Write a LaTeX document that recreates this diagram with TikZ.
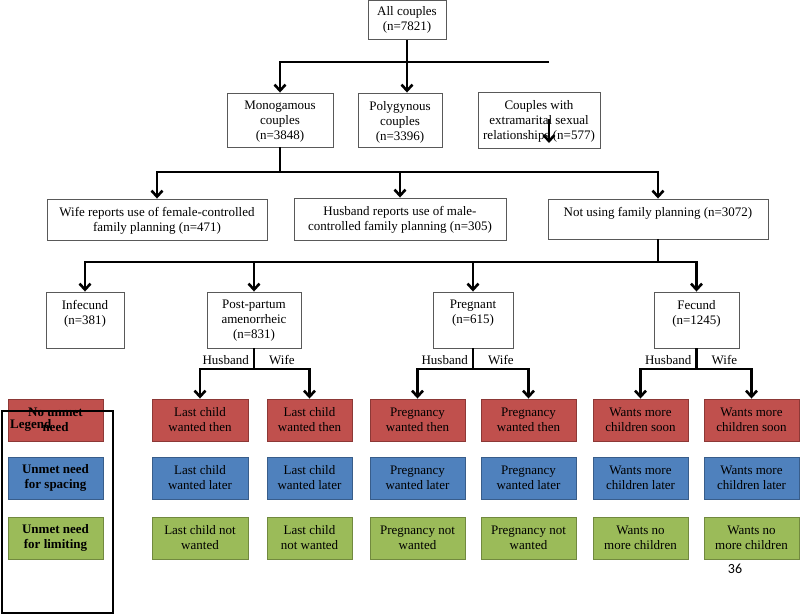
\documentclass[tikz,border=0pt]{standalone}
\usepackage{fontspec}
\setmainfont{Liberation Serif}
\newfontfamily\pagenumfont{Carlito}
\usetikzlibrary{arrows.meta}

\newcommand\boxfont{\fontsize{13}{15}\selectfont}

\definecolor{nored}{HTML}{C0504D}
\definecolor{noredline}{HTML}{8C3836}
\definecolor{spaceblue}{HTML}{4F81BD}
\definecolor{spaceblueline}{HTML}{385D8A}
\definecolor{limitgreen}{HTML}{9BBB59}
\definecolor{limitgreenline}{HTML}{71893F}

\tikzset{
  plainbox/.style={draw=black!65, line width=0.9pt, inner sep=0pt},
  boxtext/.style={anchor=north, align=center, inner xsep=2pt, inner ysep=8.5pt},
  cbox/.style={line width=0.9pt, minimum height=42, minimum width=95, align=center, inner sep=1pt},
  redbox/.style={cbox, fill=nored, draw=noredline},
  bluebox/.style={cbox, fill=spaceblue, draw=spaceblueline},
  greenbox/.style={cbox, fill=limitgreen, draw=limitgreenline},
  flow/.style={line width=2.6pt},
  arr/.style={flow, -{Straight Barb[length=6pt,width=11pt]}},
  arrboth/.style={flow, {Straight Barb[length=6pt,width=11pt]}-{Straight Barb[length=6pt,width=11pt]}},
  sidelab/.style={inner sep=1.5pt},
}

\begin{document}
\begin{tikzpicture}[x=1pt, y=-1pt, font=\boxfont]
\useasboundingbox (0,0) rectangle (800,615);

% top of the tree
\node[plainbox, minimum width=78, minimum height=39, label={[boxtext, inner ysep=6.5pt]north:All couples\\(n=7821)}] (all) at (407,20) {};
\node[plainbox, minimum width=106, minimum height=54, label={[boxtext]north:Monogamous\\couples\\(n=3848)}] (mono) at (280,120) {};
\node[plainbox, minimum width=84, minimum height=54, label={[boxtext]north:Polygynous\\couples\\(n=3396)}] (poly) at (400,120) {};
\node[plainbox, minimum width=122, minimum height=56, label={[boxtext]north:Couples with\\extramarital sexual\\relationships (n=577)}] (extra) at (539,120) {};

% family planning use
\node[plainbox, minimum width=220, minimum height=41, label={[boxtext]north:Wife reports use of female-controlled\\family planning (n=471)}] (wife) at (157,219.5) {};
\node[plainbox, minimum width=212, minimum height=42, label={[boxtext]north:Husband reports use of male-\\controlled family planning (n=305)}] (husb) at (400,219) {};
\node[plainbox, minimum width=220, minimum height=40, label={[boxtext]north:Not using family planning (n=3072)}] (notuse) at (658,219) {};

% status of non users
\node[plainbox, minimum width=78, minimum height=56, label={[boxtext]north:Infecund\\(n=381)}] (infec) at (85,320) {};
\node[plainbox, minimum width=94, minimum height=56, label={[boxtext]north:Post-partum\\amenorrheic\\(n=831)}] (pp) at (254,320) {};
\node[plainbox, minimum width=80, minimum height=56, label={[boxtext]north:Pregnant\\(n=615)}] (preg) at (473,320) {};
\node[plainbox, minimum width=85, minimum height=56, label={[boxtext]north:Fecund\\(n=1245)}] (fec) at (696.5,320) {};

% coloured outcome boxes
\node[redbox, minimum width=96] (ra) at (200,420) {Last child\\wanted then};
\node[redbox, minimum width=85] (rb) at (309.5,420) {Last child\\wanted then};
\node[redbox] (rc) at (417.5,420) {Pregnancy\\wanted then};
\node[redbox] (rd) at (528.5,420) {Pregnancy\\wanted then};
\node[redbox] (re) at (640.5,420) {Wants more\\children soon};
\node[redbox] (rf) at (751.5,420) {Wants more\\children soon};

\node[bluebox, minimum width=96] (ba) at (200,478) {Last child\\wanted later};
\node[bluebox, minimum width=85] (bb) at (309.5,478) {Last child\\wanted later};
\node[bluebox] (bc) at (417.5,478) {Pregnancy\\wanted later};
\node[bluebox] (bd) at (528.5,478) {Pregnancy\\wanted later};
\node[bluebox] (be) at (640.5,478) {Wants more\\children later};
\node[bluebox] (bf) at (751.5,478) {Wants more\\children later};

\node[greenbox, minimum width=96] (ga) at (200,538) {Last child not\\wanted};
\node[greenbox, minimum width=85] (gb) at (309.5,538) {Last child\\not wanted};
\node[greenbox] (gc) at (417.5,538) {Pregnancy not\\wanted};
\node[greenbox] (gd) at (528.5,538) {Pregnancy not\\wanted};
\node[greenbox] (ge) at (640.5,538) {Wants no\\more children};
\node[greenbox] (gf) at (751.5,538) {Wants no\\more children};

% legend
\node[redbox, font=\boxfont\bfseries] (lr) at (55.5,420) {No unmet\\need};
\node[bluebox, font=\boxfont\bfseries] (lb) at (55.5,478) {Unmet need\\for spacing};
\node[greenbox, font=\boxfont\bfseries] (lg) at (55.5,538) {Unmet need\\for limiting};
\node[draw, line width=2.5pt, minimum width=111, minimum height=202, inner sep=0pt] (legend) at (57.5,512) {};
\node[font=\boxfont\bfseries, anchor=west, inner sep=0pt] (legendtitle) at (10,425) {Legend};

% connectors
\coordinate (j1) at (407,62);
\coordinate (j1end) at (549,62);
\coordinate (j2) at (280,172);
\coordinate (j3) at (658,262);
\coordinate (splitrow) at (0,369);
\coordinate (ex1) at (549,119);
\coordinate (ex2) at (549,143);

\draw[flow] (all.south) -- (j1);
\draw[arr] (j1end) -- (j1 -| mono) -- (mono.north);
\draw[arr] (j1) -- (j1 |- poly.north);
\draw[arr] (ex1) -- (ex2);

\draw[flow] (mono.south) -- (j2);
\draw[arrboth] (wife.north) -- (j2 -| wife) -- (j2 -| notuse) -- (notuse.north);
\draw[arr] (j2 -| husb) -- (husb.north);

\draw[flow] (notuse.south) -- (j3);
\draw[arrboth] (infec.north) -- (j3 -| infec) -- (j3 -| fec) -- (fec.north);
\draw[arr] (j3 -| pp) -- (pp.north);
\draw[arr] (j3 -| preg) -- (preg.north);

\foreach \p/\a/\b in {pp/ra/rb, preg/rc/rd, fec/re/rf} {
  \draw[flow] (\p.south) -- (\p |- splitrow);
  \draw[arrboth] (\a.north) -- (\a |- splitrow) -- (\b |- splitrow) -- (\b.north);
  \node[sidelab, anchor=base east, xshift=-3.5pt, yshift=5pt] (hus\p) at (\p |- splitrow) {Husband};
  \node[sidelab, anchor=base west, xshift=13.5pt, yshift=5pt] (wif\p) at (\p |- splitrow) {Wife};
}

% page number
\node[font=\pagenumfont\fontsize{14}{16}\selectfont, inner sep=0pt] (pagenum) at (735,569) {36};
\end{tikzpicture}
\end{document}
